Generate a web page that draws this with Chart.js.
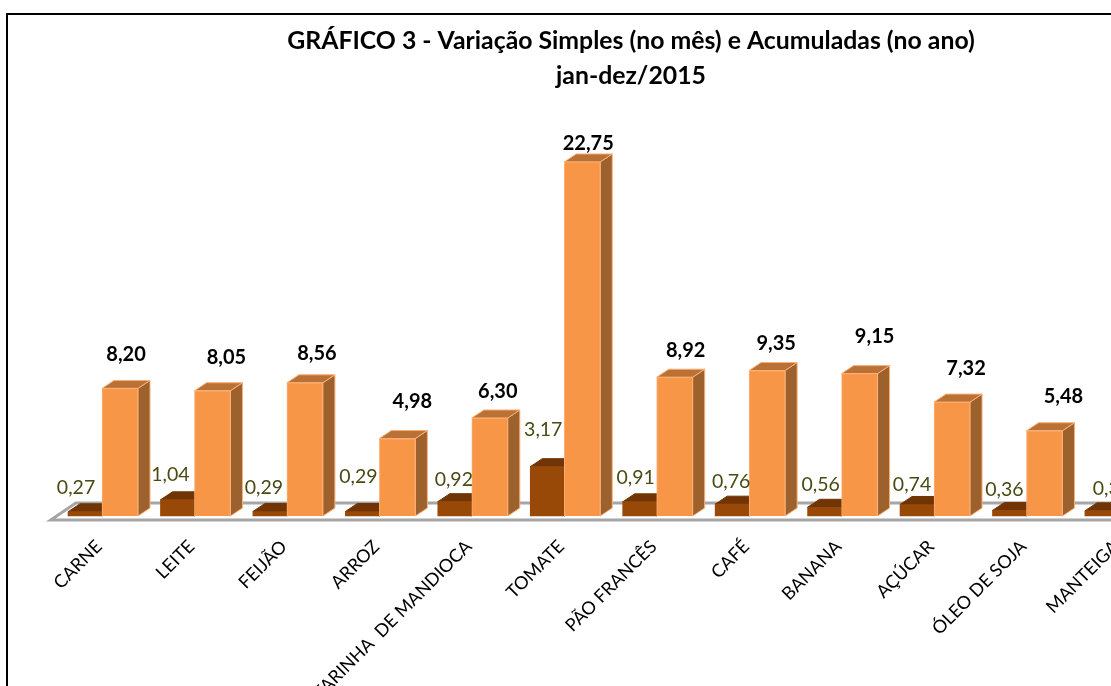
<!DOCTYPE html>
<html>
<head>
<meta charset="utf-8">
<script src="https://cdn.jsdelivr.net/npm/chart.js@4"></script>
<style>
  html, body { margin: 0; background: #fff; overflow: hidden; }
  #wrap { position: relative; width: 1111px; height: 686px; overflow: hidden; }
  #frame { position: absolute; left: 6px; top: 13px; width: 1300px; height: 800px; border: 2px solid #000; box-sizing: border-box; }
  canvas { position: absolute; left: 0; top: 0; }
</style>
</head>
<body>
<div id="wrap">
  <div id="frame"></div>
  <canvas id="chart" width="1260" height="720"></canvas>
</div>
<script>
const categories = ['CARNE', 'LEITE', 'FEIJÃO', 'ARROZ', 'FARINHA  DE MANDIOCA', 'TOMATE', 'PÃO FRANCÊS', 'CAFÉ', 'BANANA', 'AÇÚCAR', 'ÓLEO DE SOJA', 'MANTEIGA', ''];
const noMes = [0.27, 1.04, 0.29, 0.29, 0.92, 3.17, 0.91, 0.76, 0.56, 0.74, 0.36, 0.33, null];
const noAno = [8.20, 8.05, 8.56, 4.98, 6.30, 22.75, 8.92, 9.35, 9.15, 7.32, 5.48, null, null];

// hand placed labels in the original, offsets from the bar top centre
const mesNudge = [[-9, -24], [-7, -25], [-6, -24], [-4, -35], [-1, -22], [-4, -37], [-4, -24], [-1, -22], [-4, -23], [-5, -20], [-5, -21], [10, -22]];
const anoNudge = [[6, -34], [14, -33], [12, -29], [15, -37], [8, -26], [6, -18], [11, -27], [9, -27], [15, -37], [14, -34], [19, -34]];

const fmt = v => v.toFixed(2).replace('.', ',');
const DEPTH_X = 12, DEPTH_Y = 8;

// fake 3d: floor, then side + top faces, then the library's own bar on top
const fake3d = {
  id: 'fake3d',
  beforeDatasetsDraw(chart) {
    const ctx = chart.ctx, base = chart.scales.y.getPixelForValue(0), right = chart.width;
    const left = chart.scales.x.left;
    ctx.save();
    ctx.strokeStyle = '#a6a6a6';
    ctx.lineWidth = 3;
    ctx.beginPath();
    ctx.moveTo(right, base + 4);
    ctx.lineTo(left - 5, base + 4);
    ctx.lineTo(left + 20, base - 13);
    ctx.lineTo(right, base - 13);
    ctx.stroke();
    ctx.restore();

    chart.data.datasets.forEach((ds, i) => {
      chart.getDatasetMeta(i).data.forEach(bar => {
        if (bar.skip || bar.y == null || isNaN(bar.y)) return;
        const l = bar.x - bar.width / 2, r = bar.x + bar.width / 2;
        ctx.lineWidth = 1;
        ctx.strokeStyle = ds.faceEdge;
        ctx.fillStyle = ds.sideColor;
        ctx.beginPath();
        ctx.moveTo(r, bar.y);
        ctx.lineTo(r + DEPTH_X, bar.y - DEPTH_Y);
        ctx.lineTo(r + DEPTH_X, base - DEPTH_Y);
        ctx.lineTo(r, base);
        ctx.closePath();
        ctx.fill();
        ctx.stroke();
        ctx.fillStyle = ds.topColor;
        ctx.beginPath();
        ctx.moveTo(l, bar.y);
        ctx.lineTo(l + DEPTH_X, bar.y - DEPTH_Y);
        ctx.lineTo(r + DEPTH_X, bar.y - DEPTH_Y);
        ctx.lineTo(r, bar.y);
        ctx.closePath();
        ctx.fill();
        ctx.stroke();
        bar.draw(ctx);
      });
    });
  },
  beforeDatasetDraw() { return false; },
  afterDatasetsDraw(chart) {
    const ctx = chart.ctx;
    ctx.save();
    ctx.textAlign = 'center';
    ctx.textBaseline = 'middle';
    ctx.font = '19.5px Lato';
    ctx.fillStyle = '#4a4a14';
    chart.getDatasetMeta(0).data.forEach((bar, i) => {
      if (noMes[i] == null) return;
      ctx.fillText(fmt(noMes[i]), bar.x + mesNudge[i][0], bar.y + mesNudge[i][1]);
    });
    ctx.font = 'bold 20px Lato';
    ctx.fillStyle = '#000';
    chart.getDatasetMeta(1).data.forEach((bar, i) => {
      if (noAno[i] == null) return;
      ctx.fillText(fmt(noAno[i]), bar.x + anoNudge[i][0], bar.y + anoNudge[i][1]);
    });
    ctx.restore();
  }
};

new Chart(document.getElementById('chart'), {
  type: 'bar',
  data: {
    labels: categories,
    datasets: [
      { label: 'Variação Simples (no mês)', data: noMes, barThickness: 34, backgroundColor: '#984807', borderWidth: 0, sideColor: '#7a3a05', topColor: '#713505', faceEdge: '#713505' },
      { label: 'Acumuladas (no ano)', data: noAno, barThickness: 36, backgroundColor: '#f79646', borderColor: '#fbb077', borderWidth: 1, sideColor: '#9c612d', topColor: '#ba7136', faceEdge: '#fbb077' }
    ]
  },
  options: {
    responsive: false,
    animation: false,
    events: [],
    layout: { padding: { left: 4.4, right: 2.4, top: 0, bottom: 0 } },
    plugins: {
      legend: { display: false },
      tooltip: { enabled: false },
      title: {
        display: true,
        text: ['GRÁFICO 3 - Variação Simples (no mês) e Acumuladas (no ano)', 'jan-dez/2015'],
        color: '#000',
        font: { family: 'Lato', size: 24.8, weight: 'bold', lineHeight: 1.41 },
        padding: { top: 24, bottom: 33 }
      }
    },
    scales: {
      x: {
        grid: { display: false },
        border: { display: false },
        afterFit(scale) { scale.height = 204; },
        ticks: {
          autoSkip: false,
          minRotation: 45,
          maxRotation: 45,
          padding: 12,
          labelOffset: -3,
          color: '#000',
          font: { family: 'Lato', size: 18 }
        }
      },
      y: {
        min: 0,
        max: 25,
        grid: { display: false },
        border: { display: false },
        ticks: { display: false },
        afterFit(scale) { scale.width = 51.4; }
      }
    }
  },
  plugins: [fake3d]
});
</script>
</body>
</html>
